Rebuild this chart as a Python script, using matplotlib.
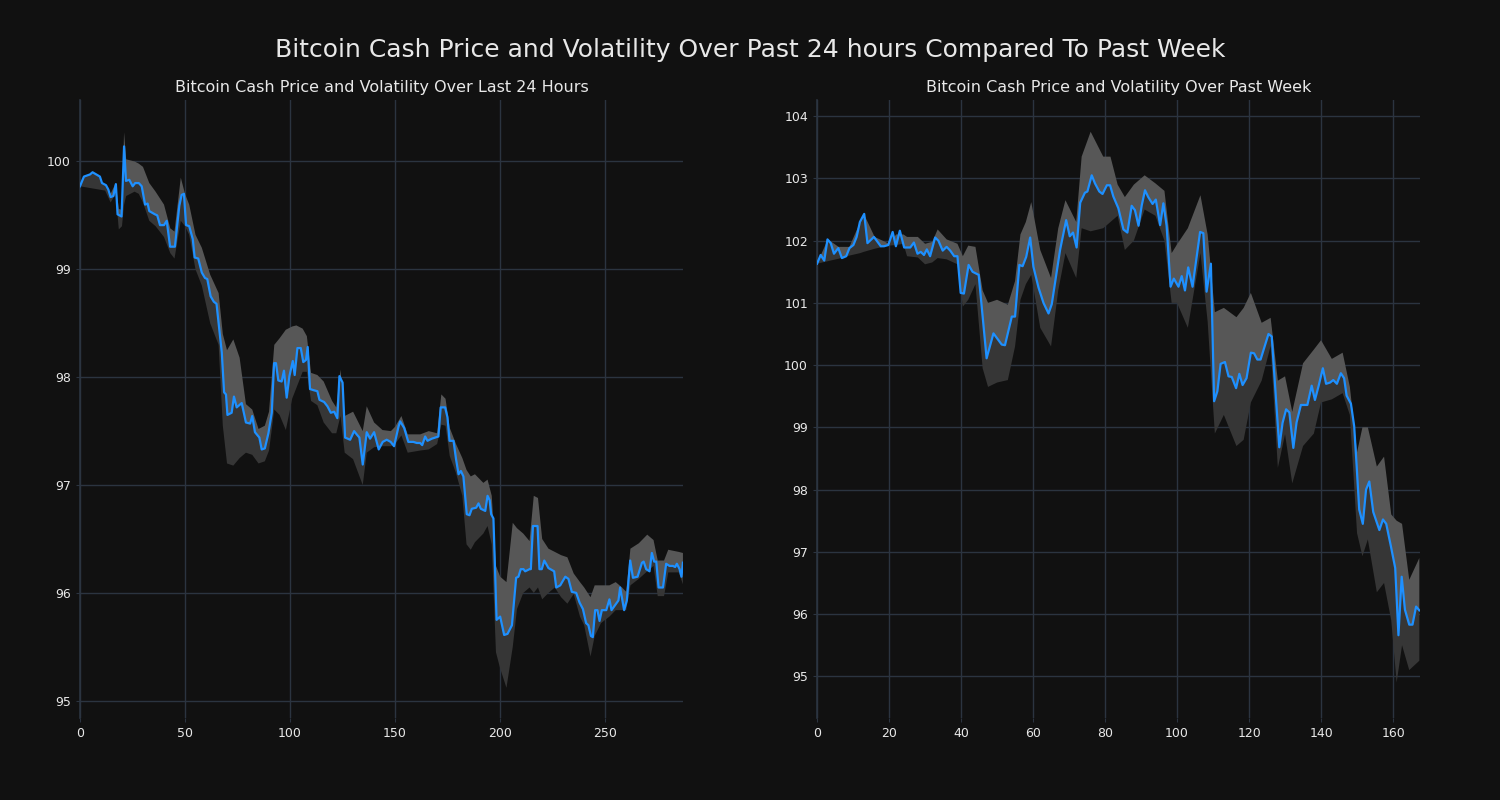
import numpy as np
import matplotlib
matplotlib.use("Agg")
import matplotlib.pyplot as plt

# ---------------- data: last 24 hours ----------------
day_x = [0, 1.9, 4.8, 6, 7.8, 9.5, 10.5, 12.4, 13.5, 14.6,
         15.9, 17.1, 17.9, 19.8, 21, 21.9, 23.5, 25.1, 26.3, 28,
         29.4, 31, 32.2, 33, 35.7, 36.8, 38.1, 40, 41.3, 42.9,
         45.2, 47.3, 48.4, 49.5, 50.5, 52, 53.7, 54.6, 56.3, 58,
         59.5, 60.6, 62.2, 63.7, 65, 67.5, 68.6, 69.5, 70.2, 72.2,
         73.3, 74.6, 77, 79, 81, 82, 83.3, 85.4, 86.5, 88,
         89.7, 91.3, 92.4, 93.3, 94.4, 96, 97.1, 98.4, 99.7, 101.3,
         102.2, 103.5, 105.1, 106.3, 107.6, 108.4, 109.5, 111.1, 113, 114,
         116.2, 117.8, 119.4, 121, 122.5, 123.5, 125, 126.2, 128.6, 130.5,
         131.7, 133, 134.6, 136.5, 138.1, 140, 142.2, 144.1, 146, 147.9,
         149.5, 151.6, 152.4, 154.3, 156.3, 158.7, 160.3, 161.9, 162.9, 164.3,
         165.4, 167.5, 170.6, 171.7, 173.8, 174.9, 175.9, 177.8, 179, 180.2,
         181.3, 182.5, 184.1, 185.4, 186.5, 188.6, 189.7, 190.8, 192.9, 194,
         195, 195.7, 196.8, 198.3, 200, 201.9, 203.5, 205.6, 207.6, 208.7,
         209.8, 211.1, 211.9, 214, 214.6, 215.6, 217.8, 218.7, 219.8, 221,
         223, 225.7, 226.7, 228.6, 231, 232.5, 234.1, 236.2, 237.8, 239.4,
         240.9, 242, 243.2, 244.1, 245.2, 246.3, 247.3, 248.4, 250.5, 252,
         253, 254.8, 256.3, 257.1, 259, 260.3, 261.9, 263.2, 265.4, 267.5,
         268.3, 269.5, 271.1, 272.2, 273.3, 274.3, 275.4, 277.5, 279, 280.6,
         282.2, 283.3, 284.1, 285.4, 286.3, 287]
day_price = [99.77, 99.86, 99.88, 99.90, 99.88, 99.86, 99.80, 99.78, 99.74, 99.67,
             99.68, 99.79, 99.51, 99.49, 100.14, 99.82, 99.83, 99.77, 99.80, 99.80,
             99.77, 99.60, 99.61, 99.54, 99.51, 99.50, 99.41, 99.41, 99.45, 99.21,
             99.21, 99.59, 99.69, 99.70, 99.41, 99.40, 99.28, 99.11, 99.10, 98.97,
             98.92, 98.91, 98.75, 98.70, 98.68, 98.23, 97.86, 97.84, 97.65, 97.67,
             97.82, 97.72, 97.76, 97.58, 97.57, 97.64, 97.49, 97.44, 97.33, 97.34,
             97.48, 97.67, 98.13, 98.13, 97.97, 97.96, 98.06, 97.81, 98.01, 98.15,
             98.02, 98.27, 98.27, 98.14, 98.16, 98.28, 97.89, 97.88, 97.87, 97.79,
             97.77, 97.73, 97.67, 97.68, 97.62, 98.01, 97.95, 97.44, 97.42, 97.50,
             97.47, 97.44, 97.19, 97.49, 97.43, 97.49, 97.33, 97.40, 97.42, 97.40,
             97.36, 97.54, 97.59, 97.53, 97.40, 97.40, 97.39, 97.39, 97.37, 97.45,
             97.41, 97.43, 97.45, 97.72, 97.72, 97.63, 97.41, 97.41, 97.24, 97.10,
             97.13, 97.08, 96.73, 96.72, 96.78, 96.79, 96.83, 96.78, 96.76, 96.90,
             96.86, 96.73, 96.69, 95.75, 95.78, 95.61, 95.62, 95.70, 96.14, 96.15,
             96.22, 96.22, 96.20, 96.22, 96.22, 96.62, 96.62, 96.22, 96.22, 96.30,
             96.23, 96.20, 96.05, 96.07, 96.15, 96.13, 96.01, 96.00, 95.91, 95.85,
             95.72, 95.70, 95.60, 95.59, 95.84, 95.84, 95.74, 95.84, 95.84, 95.94,
             95.84, 95.89, 95.93, 96.05, 95.84, 95.93, 96.30, 96.14, 96.15, 96.28,
             96.29, 96.22, 96.20, 96.37, 96.29, 96.29, 96.05, 96.05, 96.27, 96.25,
             96.25, 96.24, 96.27, 96.22, 96.15, 96.28]

day_band_x = [0, 6, 12, 14.6, 17, 18.5, 20, 21, 22, 26,
              28, 30, 33, 36, 40, 43, 45, 48, 50, 52,
              55, 58, 62, 66, 68, 70, 73, 76, 79, 82,
              85, 88, 90, 92.5, 95, 98, 101, 103, 106, 108,
              110, 113, 116, 120, 122, 124, 126, 130, 134.6, 136.5,
              140, 144, 148, 150, 153, 156, 162, 166, 170, 172,
              174, 176, 179, 182, 184, 186, 188, 192, 194, 196,
              198, 200, 203, 206, 208, 211, 214, 216, 218, 220,
              223, 226, 229, 232, 235, 238, 240, 243, 245, 248,
              252, 255, 258, 260, 262, 266, 270, 273, 275, 278,
              280, 285, 287]
day_upper = [99.77, 99.90, 99.78, 99.70, 99.80, 99.56, 99.55, 100.27, 100.02, 100.00,
             99.98, 99.95, 99.80, 99.72, 99.60, 99.38, 99.35, 99.85, 99.70, 99.60,
             99.32, 99.20, 98.95, 98.78, 98.40, 98.25, 98.35, 98.18, 97.75, 97.70,
             97.52, 97.55, 97.68, 98.30, 98.36, 98.44, 98.47, 98.48, 98.45, 98.38,
             98.04, 98.02, 97.96, 97.78, 97.72, 98.07, 97.64, 97.68, 97.50, 97.73,
             97.58, 97.51, 97.50, 97.54, 97.64, 97.47, 97.47, 97.50, 97.48, 97.84,
             97.80, 97.53, 97.38, 97.25, 97.14, 97.08, 97.10, 97.02, 97.05, 96.90,
             96.25, 96.15, 96.10, 96.65, 96.60, 96.55, 96.48, 96.90, 96.88, 96.50,
             96.41, 96.38, 96.35, 96.33, 96.18, 96.10, 96.05, 95.96, 96.07, 96.07,
             96.07, 96.10, 96.05, 96.01, 96.41, 96.46, 96.54, 96.49, 96.30, 96.30,
             96.40, 96.38, 96.37]
day_lower = [99.77, 99.75, 99.73, 99.62, 99.70, 99.37, 99.40, 99.60, 99.68, 99.72,
             99.70, 99.62, 99.45, 99.40, 99.30, 99.15, 99.10, 99.45, 99.40, 99.32,
             99.00, 98.85, 98.50, 98.30, 97.55, 97.20, 97.18, 97.25, 97.30, 97.28,
             97.20, 97.22, 97.32, 97.70, 97.65, 97.51, 97.80, 97.90, 98.05, 98.05,
             97.78, 97.74, 97.58, 97.48, 97.48, 97.64, 97.30, 97.24, 97.00, 97.30,
             97.35, 97.36, 97.36, 97.38, 97.46, 97.30, 97.32, 97.33, 97.38, 97.56,
             97.55, 97.27, 97.11, 96.90, 96.45, 96.40, 96.47, 96.55, 96.62, 96.45,
             95.45, 95.30, 95.12, 95.50, 95.85, 96.00, 96.05, 96.00, 96.05, 95.94,
             96.00, 96.05, 95.96, 95.90, 95.99, 95.78, 95.70, 95.41, 95.60, 95.72,
             95.78, 95.84, 95.84, 95.84, 96.07, 96.13, 96.20, 96.25, 95.97, 95.97,
             96.19, 96.19, 96.08]

# ---------------- data: past week ----------------
week_x = [0, 1, 2, 2.9, 3.8, 4.7, 5.9, 6.9, 8.1, 9,
          10.1, 11, 11.9, 13.1, 14, 15.8, 17.7, 18.6, 19.8, 21,
          21.9, 23, 24.2, 25.9, 26.9, 27.9, 28.8, 29.7, 30.5, 31.4,
          32.8, 33.7, 34.9, 36, 37, 38.1, 39, 39.9, 40.8, 42.1,
          43.2, 44.9, 46, 47.1, 49, 51.3, 52.2, 54.1, 55, 56.2,
          57.1, 58.1, 59.2, 60.1, 61.5, 62.9, 64.3, 65.2, 66.1, 67.5,
          69.2, 70.2, 71.1, 72.1, 73.1, 74.4, 75.1, 76.3, 77.2, 78.4,
          79.3, 80.5, 81.4, 82.3, 83.7, 85.1, 86.2, 87.4, 88.3, 89.3,
          90.2, 91.1, 92, 93.2, 94.1, 95.3, 96.2, 97.1, 98.2, 99.1,
          100.4, 101.3, 102.2, 103.1, 104.3, 106.4, 107.3, 108.2, 109.4, 110.3,
          111.2, 112.1, 113.3, 114.3, 115.2, 116.4, 117.3, 118.2, 119.3, 120.5,
          121.4, 122.3, 123.2, 125.4, 126.3, 128.4, 129.3, 130.3, 131.2, 132.3,
          133.2, 134.4, 136.2, 137.4, 138.3, 139.3, 140.5, 141.4, 142.5, 143.4,
          144.4, 145.5, 146.4, 147.1, 148.3, 149.2, 149.9, 150.6, 151.6, 152.5,
          153.4, 154.5, 156.2, 157.2, 158.1, 159.4, 160.6, 161.5, 162.4, 163.3,
          164.5, 165.4, 166.4, 167.3]
week_price = [101.63, 101.77, 101.68, 102.02, 101.96, 101.79, 101.88, 101.72, 101.75, 101.88,
              101.93, 102.06, 102.30, 102.43, 101.96, 102.06, 101.91, 101.91, 101.93, 102.14,
              101.91, 102.16, 101.89, 101.89, 101.97, 101.79, 101.82, 101.77, 101.86, 101.75,
              102.05, 102.00, 101.84, 101.90, 101.84, 101.75, 101.75, 101.16, 101.15, 101.61,
              101.50, 101.45, 100.78, 100.11, 100.51, 100.33, 100.32, 100.78, 100.78, 101.61,
              101.59, 101.74, 102.05, 101.58, 101.25, 101.00, 100.83, 100.98, 101.32, 101.85,
              102.33, 102.07, 102.13, 101.89, 102.61, 102.77, 102.79, 103.05, 102.92, 102.79,
              102.75, 102.89, 102.89, 102.71, 102.52, 102.18, 102.13, 102.56, 102.49, 102.24,
              102.57, 102.81, 102.70, 102.59, 102.66, 102.25, 102.60, 102.24, 101.26, 101.39,
              101.26, 101.43, 101.20, 101.57, 101.26, 102.14, 102.12, 101.18, 101.63, 99.42,
              99.58, 100.02, 100.05, 99.82, 99.81, 99.63, 99.86, 99.68, 99.79, 100.20,
              100.19, 100.09, 100.09, 100.50, 100.46, 98.68, 99.07, 99.29, 99.24, 98.67,
              99.08, 99.36, 99.36, 99.67, 99.44, 99.66, 99.95, 99.70, 99.72, 99.76,
              99.70, 99.87, 99.79, 99.51, 99.38, 99.02, 98.37, 97.68, 97.45, 98.00,
              98.13, 97.64, 97.35, 97.52, 97.45, 97.09, 96.74, 95.66, 96.60, 96.07,
              95.83, 95.83, 96.12, 96.06]

week_band_x = [0, 3, 6, 9, 12, 13, 16, 20, 22, 24,
               25, 28, 30, 32, 33.5, 36, 39, 40.5, 42, 44,
               46, 47.5, 50, 53, 55, 56.5, 58, 59.5, 62, 65,
               67, 69, 72, 73.5, 76, 79.5, 81.5, 83.5, 85.5, 88,
               91, 94, 96.5, 98.5, 100, 103, 106.5, 108.5, 110.5, 113,
               116.5, 118.5, 120.5, 123.5, 126, 128, 130, 132, 135, 138,
               140, 143, 146, 148, 150, 151.5, 153, 155.5, 157.5, 159.5,
               161, 162.5, 164.5, 167.3]
week_upper = [101.63, 102.02, 101.90, 101.90, 102.30, 102.43, 102.06, 101.95, 102.10, 102.10,
              102.06, 102.06, 101.95, 101.98, 102.18, 102.02, 101.95, 101.75, 101.92, 101.90,
              101.20, 101.00, 101.05, 100.97, 101.35, 102.10, 102.30, 102.62, 101.85, 101.40,
              102.20, 102.65, 102.30, 103.35, 103.75, 103.35, 103.35, 102.90, 102.70, 102.90,
              103.05, 102.92, 102.80, 101.80, 101.94, 102.20, 102.73, 102.10, 100.85, 100.92,
              100.77, 100.92, 101.16, 100.68, 100.76, 99.75, 99.82, 99.25, 100.03, 100.25,
              100.40, 100.10, 100.20, 99.65, 98.60, 99.00, 99.00, 98.37, 98.53, 97.60,
              97.50, 97.45, 96.55, 96.90]
week_lower = [101.63, 101.67, 101.71, 101.76, 101.80, 101.82, 101.87, 101.92, 101.93, 101.95,
              101.75, 101.73, 101.62, 101.65, 101.72, 101.70, 101.62, 100.94, 101.05, 101.30,
              99.95, 99.65, 99.72, 99.76, 100.30, 101.05, 101.30, 101.45, 100.60, 100.30,
              101.20, 101.80, 101.40, 102.20, 102.15, 102.20, 102.30, 102.40, 101.85, 102.00,
              102.50, 102.40, 102.00, 101.00, 101.00, 100.60, 101.80, 100.70, 98.90, 99.20,
              98.70, 98.80, 99.40, 99.75, 100.31, 98.35, 98.89, 98.10, 98.70, 98.90,
              99.40, 99.45, 99.55, 99.20, 97.30, 96.93, 97.20, 96.35, 96.50, 95.90,
              94.90, 95.50, 95.10, 95.25]

day_xticks = [0, 50, 100, 150, 200, 250]
day_yticks = [95, 96, 97, 98, 99, 100]
week_xticks = [0, 20, 40, 60, 80, 100, 120, 140, 160]
week_yticks = [95, 96, 97, 98, 99, 100, 101, 102, 103, 104]

main_title = "Bitcoin Cash Price and Volatility Over Past 24 hours Compared To Past Week"
day_title = "Bitcoin Cash Price and Volatility Over Last 24 Hours"
week_title = "Bitcoin Cash Price and Volatility Over Past Week"

# ---------------- drawing ----------------
BG = "#111111"
GRID = "#2b3440"
LINE = "#1e90ff"
TXT = "#e8e8e8"
BAND_LIGHT = "#575757"
BAND_DARK = "#363636"

plt.rcParams['font.family'] = ['DejaVu Sans']
fig = plt.figure(figsize=(15, 8), dpi=100, facecolor=BG)
ax1 = fig.add_axes([0.0533, 0.1025, 0.402, 0.7725])
ax2 = fig.add_axes([0.5447, 0.1025, 0.402, 0.7725])


def style(ax, xlim, ylim, xticks, yticks, title):
    ax.set_facecolor(BG)
    ax.set_xlim(*xlim)
    ax.set_ylim(*ylim)
    ax.set_xticks(xticks)
    ax.set_yticks(yticks)
    ax.grid(True, color=GRID, linewidth=1.0)
    ax.set_axisbelow(True)
    for s in ["top", "right", "bottom"]:
        ax.spines[s].set_visible(False)
    ax.spines["left"].set_color(GRID)
    ax.spines["left"].set_linewidth(1.2)
    ax.tick_params(colors=TXT, labelsize=9, length=3, color=GRID)
    ax.set_title(title, color=TXT, fontsize=11.5, pad=6)


for ax, bx, up, lo, px, py in [(ax1, day_band_x, day_upper, day_lower, day_x, day_price),
                               (ax2, week_band_x, week_upper, week_lower, week_x, week_price)]:
    bx = np.asarray(bx, float)
    px = np.asarray(px, float)
    # lighter part: between the upper band edge and the price line
    ax.fill(np.concatenate([bx, px[::-1]]),
            np.concatenate([np.asarray(up, float), np.asarray(py, float)[::-1]]),
            color=BAND_LIGHT, linewidth=0, zorder=2)
    # darker part: between the price line and the lower band edge
    ax.fill(np.concatenate([px, bx[::-1]]),
            np.concatenate([np.asarray(py, float), np.asarray(lo, float)[::-1]]),
            color=BAND_DARK, linewidth=0, zorder=2)
    ax.plot(px, py, color=LINE, linewidth=1.6, zorder=3)

style(ax1, (0, 287), (94.84, 100.57), day_xticks, day_yticks, day_title)
style(ax2, (0, 167.5), (94.33, 104.26), week_xticks, week_yticks, week_title)

fig.text(0.5, 0.9375, main_title, ha="center", va="center", color=TXT, fontsize=18)

fig.savefig("out.png", dpi=100, facecolor=BG)
